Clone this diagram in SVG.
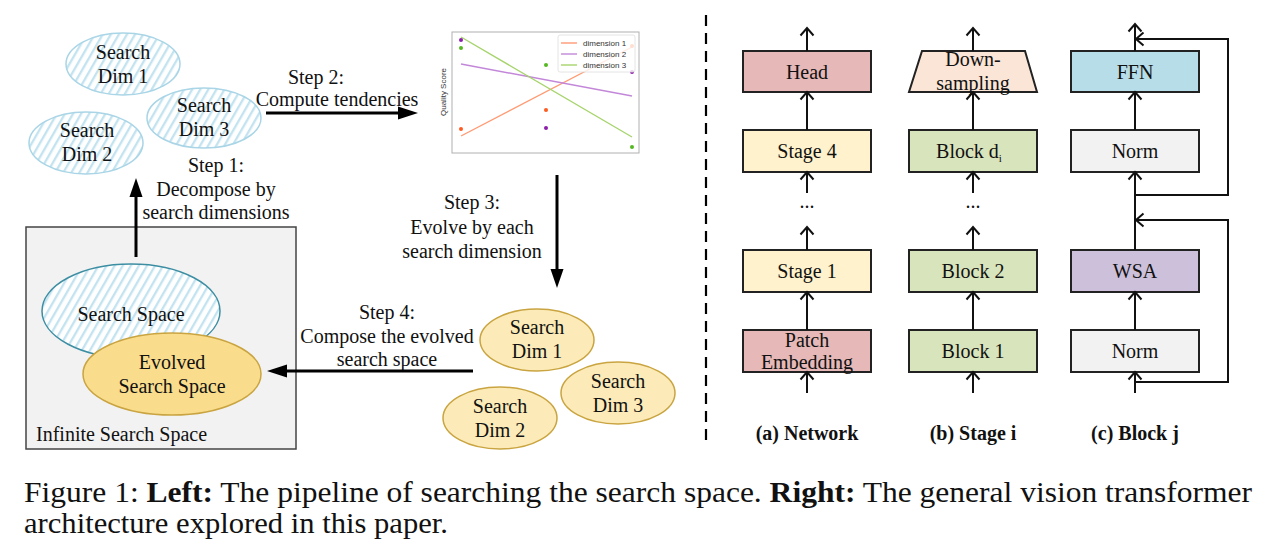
<svg xmlns="http://www.w3.org/2000/svg" width="1280" height="549" viewBox="0 0 1280 549" font-family="'Liberation Serif', Tinos, 'Times New Roman', Times, serif">
<defs>
<pattern id="hatch" patternUnits="userSpaceOnUse" width="7" height="7" patternTransform="rotate(30)">
<rect width="7" height="7" fill="#ffffff"/>
<rect width="2.3" height="7" fill="#c2e3ef"/>
</pattern>
<marker id="oa" markerUnits="userSpaceOnUse" markerWidth="16" markerHeight="16" refX="8" refY="8" orient="auto" overflow="visible">
<path d="M0.5,1.5 L8,8 L0.5,14.5" fill="none" stroke="#111" stroke-width="2"/>
</marker>
</defs>
<style>
text{font-family:'Liberation Serif', Tinos, 'Times New Roman', Times, serif}
.t{font-size:20px;fill:#111;text-anchor:middle}
.ts{font-size:20px;fill:#111}
.b{font-weight:bold}
.hd{fill:url(#hatch);stroke:#a9d5e6;stroke-width:1.5}
.gd{fill:#fcebb8;stroke:#c9a441;stroke-width:1.5}
.box{stroke:#222;stroke-width:2}
.ln{stroke:#111;stroke-width:2;fill:none;marker-end:url(#oa)}
.big{stroke:#000;stroke-width:3;fill:none}
.ah{fill:#000}
text.lg{font-family:'Liberation Sans', Arial, sans-serif;font-size:8px;fill:#333}
.cap{font-size:29.5px;fill:#111}
</style>
<rect width="1280" height="549" fill="#ffffff"/>

<g id="infinite-space">
<rect x="26" y="227" width="270" height="222" fill="#f2f2f2" stroke="#444" stroke-width="1.5"/>
<text class="ts" x="36" y="441">Infinite Search Space</text>
</g>
<g id="search-space">
<ellipse cx="131" cy="311" rx="89" ry="47" fill="url(#hatch)" stroke="#3d8ea3" stroke-width="1.5"/>
<text class="t" x="131" y="321">Search Space</text>
</g>
<g id="evolved-space">
<ellipse cx="172" cy="374" rx="89" ry="41" fill="#fadd8c" stroke="#c9a441" stroke-width="1.5"/>
<text class="t" x="172" y="369">Evolved</text>
<text class="t" x="172" y="393">Search Space</text>
</g>

<g id="dim1-h">
<ellipse class="hd" cx="123" cy="64" rx="57" ry="31"/>
<text class="t" x="123" y="59">Search</text>
<text class="t" x="123" y="83">Dim 1</text>
</g>
<g id="dim2-h">
<ellipse class="hd" cx="86" cy="143" rx="57" ry="31"/>
<text class="t" x="87" y="137">Search</text>
<text class="t" x="87" y="161">Dim 2</text>
</g>
<g id="dim3-h">
<ellipse class="hd" cx="204" cy="118" rx="57" ry="30"/>
<text class="t" x="204" y="112">Search</text>
<text class="t" x="204" y="136">Dim 3</text>
</g>

<g id="dim1-g">
<ellipse class="gd" cx="537" cy="340" rx="57" ry="31"/>
<text class="t" x="537" y="334">Search</text>
<text class="t" x="537" y="358">Dim 1</text>
</g>
<g id="dim2-g">
<ellipse class="gd" cx="500" cy="418" rx="57" ry="31"/>
<text class="t" x="500" y="413">Search</text>
<text class="t" x="500" y="437">Dim 2</text>
</g>
<g id="dim3-g">
<ellipse class="gd" cx="618" cy="393" rx="57" ry="31"/>
<text class="t" x="618" y="388">Search</text>
<text class="t" x="618" y="412">Dim 3</text>
</g>

<g id="chart">
<rect x="452" y="32" width="187" height="121" fill="#fff" stroke="#b0b0b0" stroke-width="1"/>
<line x1="461" y1="136" x2="632" y2="47" stroke="#ff9a73" stroke-width="1.4"/>
<line x1="461" y1="64" x2="632" y2="96" stroke="#c387d9" stroke-width="1.4"/>
<line x1="461" y1="37" x2="632" y2="137" stroke="#a6d46c" stroke-width="1.4"/>
<circle cx="461" cy="40" r="2" fill="#8b1fa9"/>
<circle cx="461" cy="48" r="2" fill="#55b821"/>
<circle cx="461" cy="129" r="2" fill="#ff5a1f"/>
<circle cx="546" cy="65" r="2" fill="#55b821"/>
<circle cx="546" cy="110" r="2" fill="#ff5a1f"/>
<circle cx="546" cy="128" r="2" fill="#8b1fa9"/>
<circle cx="632" cy="147" r="2" fill="#55b821"/>
<circle cx="632" cy="46" r="2" fill="#ff5a1f"/>
<circle cx="632" cy="72" r="2" fill="#8b1fa9"/>
<rect x="558" y="35" width="77" height="37" rx="2" fill="#fff" fill-opacity="0.8" stroke="#dddddd" stroke-width="0.8"/>
<line x1="561" y1="43" x2="577" y2="43" stroke="#ff9a73" stroke-width="1.4"/>
<line x1="561" y1="54" x2="577" y2="54" stroke="#c387d9" stroke-width="1.4"/>
<line x1="561" y1="65" x2="577" y2="65" stroke="#a6d46c" stroke-width="1.4"/>
<text class="lg" x="583" y="46">dimension 1</text>
<text class="lg" x="583" y="57">dimension 2</text>
<text class="lg" x="583" y="68">dimension 3</text>
<text class="lg" x="0" y="0" font-size="8.5" text-anchor="middle" transform="translate(446,92) rotate(-90)">Quality Score</text>
</g>

<g id="step-labels">
<text class="t" x="216" y="172">Step 1:</text>
<text class="t" x="216" y="196">Decompose by</text>
<text class="t" x="216" y="219">search dimensions</text>
<text class="t" x="316" y="84">Step 2:</text>
<text class="t" x="337" y="106">Compute tendencies</text>
<text class="t" x="472" y="209">Step 3:</text>
<text class="t" x="472" y="234">Evolve by each</text>
<text class="t" x="472" y="258">search dimension</text>
<text class="t" x="387" y="319">Step 4:</text>
<text class="t" x="387" y="343">Compose the evolved</text>
<text class="t" x="387" y="366">search space</text>
</g>

<g id="left-connectors">
<line class="big" x1="136" y1="257" x2="136" y2="195"/>
<polygon class="ah" points="136,178 142.5,197 129.5,197"/>
<line class="big" x1="266" y1="113" x2="400" y2="113"/>
<polygon class="ah" points="418,113 398,106.5 398,119.5"/>
<line class="big" x1="557" y1="175" x2="557" y2="272"/>
<polygon class="ah" points="557,288 550.5,269 563.5,269"/>
<line class="big" x1="473" y1="371" x2="285" y2="371"/>
<polygon class="ah" points="267,371 287,364.5 287,377.5"/>
</g>

<line x1="706" y1="15" x2="706" y2="442" stroke="#000" stroke-width="2.2" stroke-dasharray="11,7"/>

<g id="head"><rect class="box" x="743" y="51" width="128" height="41" fill="#e6b9b8"/><text class="t" x="807" y="79">Head</text></g>
<g id="stage4"><rect class="box" x="743" y="130" width="128" height="42" fill="#fff2cc"/><text class="t" x="807" y="158">Stage 4</text></g>
<g id="stage1"><rect class="box" x="743" y="250" width="128" height="42" fill="#fff2cc"/><text class="t" x="807" y="278">Stage 1</text></g>
<g id="patch"><rect class="box" x="743" y="330" width="128" height="42" fill="#e6b9b8"/><text class="t" x="807" y="347">Patch</text><text class="t" x="807" y="369">Embedding</text></g>
<text class="t" x="807" y="208">...</text>
<text class="t b" x="807" y="440">(a) Network</text>

<g id="downsampling"><polygon class="box" points="922,51 1025,51 1037,92 909,92" fill="#fbe5d6"/><text class="t" x="973" y="66">Down-</text><text class="t" x="973" y="90">sampling</text></g>
<g id="blockdi"><rect class="box" x="909" y="130" width="128" height="42" fill="#d8e4bc"/><text class="t" x="969" y="158">Block d<tspan font-size="11" dy="4">i</tspan></text></g>
<g id="block2"><rect class="box" x="909" y="250" width="128" height="42" fill="#d8e4bc"/><text class="t" x="973" y="278">Block 2</text></g>
<g id="block1"><rect class="box" x="909" y="330" width="128" height="42" fill="#d8e4bc"/><text class="t" x="973" y="358">Block 1</text></g>
<text class="t" x="973" y="208">...</text>
<text class="t b" x="973" y="440">(b) Stage i</text>

<g id="ffn"><rect class="box" x="1071" y="51" width="128" height="41" fill="#b7dde8"/><text class="t" x="1135" y="79">FFN</text></g>
<g id="norm2"><rect class="box" x="1071" y="130" width="128" height="42" fill="#f2f2f2"/><text class="t" x="1135" y="158">Norm</text></g>
<g id="wsa"><rect class="box" x="1071" y="250" width="128" height="42" fill="#ccc0da"/><text class="t" x="1135" y="278">WSA</text></g>
<g id="norm1"><rect class="box" x="1071" y="330" width="128" height="42" fill="#f2f2f2"/><text class="t" x="1135" y="358">Norm</text></g>
<text class="t b" x="1135" y="440">(c) Block j</text>

<g id="right-connectors">
<path class="ln" d="M807,51 V28"/>
<path class="ln" d="M807,130 V92"/>
<path class="ln" d="M807,193 V172"/>
<path class="ln" d="M807,250 V227"/>
<path class="ln" d="M807,330 V292"/>
<path class="ln" d="M807,393 V372"/>
<path class="ln" d="M973,51 V28"/>
<path class="ln" d="M973,130 V92"/>
<path class="ln" d="M973,193 V172"/>
<path class="ln" d="M973,250 V227"/>
<path class="ln" d="M973,330 V292"/>
<path class="ln" d="M973,393 V372"/>
<path class="ln" d="M1135,51 V24"/>
<path class="ln" d="M1135,130 V92"/>
<path class="ln" d="M1135,250 V172"/>
<path class="ln" d="M1135,330 V292"/>
<path class="ln" d="M1135,393 V372"/>
<path class="ln" d="M1135,195 H1228 V39 H1136"/>
<path class="ln" d="M1135,382 H1228 V220 H1136"/>
</g>

<text class="cap" x="24" y="502" textLength="1228" lengthAdjust="spacingAndGlyphs">Figure 1: <tspan class="b">Left:</tspan> The pipeline of searching the search space. <tspan class="b">Right:</tspan> The general vision transformer</text>
<text class="cap" x="24" y="533" textLength="424" lengthAdjust="spacingAndGlyphs">architecture explored in this paper.</text>
</svg>
